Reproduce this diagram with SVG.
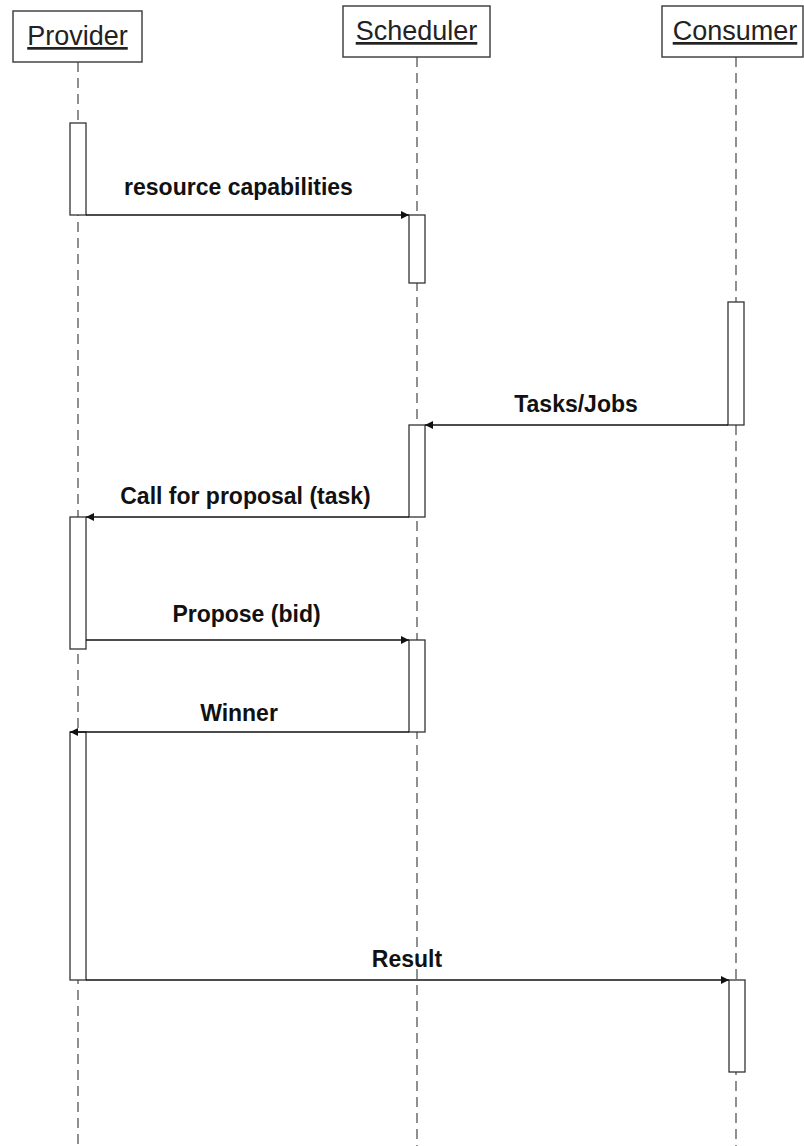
<svg xmlns="http://www.w3.org/2000/svg" width="804" height="1146" viewBox="0 0 804 1146">
  <style>
    .head { fill: #fff; stroke: #444; stroke-width: 1.5; }
    .head-label { font-family: "Liberation Sans", Arial, sans-serif; font-size: 27px; fill: #222; text-anchor: middle; text-decoration: underline; }
    .life { stroke: #555; stroke-width: 1.3; stroke-dasharray: 10 6; fill: none; }
    .act { fill: #fff; stroke: #333; stroke-width: 1.3; }
    .msg { stroke: #111; stroke-width: 1.3; fill: none; marker-end: url(#head); }
    .msg-label { font-family: "Liberation Sans", Arial, sans-serif; font-size: 23px; font-weight: bold; fill: #111; text-anchor: middle; }
  </style>
  <defs>
    <marker id="head" viewBox="0 0 10 10" refX="10" refY="5" markerWidth="10" markerHeight="8" markerUnits="userSpaceOnUse" orient="auto">
      <path d="M0,0 L10,5 L0,10 Z" fill="#111"/>
    </marker>
  </defs>
  <rect width="804" height="1146" fill="#fff"/>

  <!-- lifelines -->
  <g id="lifelines">
    <line class="life" x1="78" y1="62" x2="78" y2="1146"/>
    <line class="life" x1="417" y1="57" x2="417" y2="1146"/>
    <line class="life" x1="736" y1="57" x2="736" y2="1146"/>
  </g>

  <!-- participants -->
  <g id="provider">
    <rect class="head" x="13" y="11" width="129" height="51"/>
    <text class="head-label" x="77.5" y="45">Provider</text>
  </g>
  <g id="scheduler">
    <rect class="head" x="343" y="6" width="147" height="51"/>
    <text class="head-label" x="416.5" y="40">Scheduler</text>
  </g>
  <g id="consumer">
    <rect class="head" x="662" y="6" width="141" height="51"/>
    <text class="head-label" x="735" y="40">Consumer</text>
  </g>

  <!-- activation bars -->
  <g id="provider-activations">
    <rect class="act" x="70" y="123" width="16" height="92"/>
    <rect class="act" x="70" y="517" width="16" height="132"/>
    <rect class="act" x="70" y="732" width="16" height="248"/>
  </g>
  <g id="scheduler-activations">
    <rect class="act" x="409" y="215" width="16" height="68"/>
    <rect class="act" x="409" y="425" width="16" height="92"/>
    <rect class="act" x="409" y="640" width="16" height="92"/>
  </g>
  <g id="consumer-activations">
    <rect class="act" x="728" y="302" width="16" height="123"/>
    <rect class="act" x="729" y="980" width="16" height="92"/>
  </g>

  <!-- messages -->
  <g id="connectors">
    <line class="msg" x1="86" y1="215" x2="409" y2="215"/>
    <line class="msg" x1="728" y1="425" x2="425" y2="425"/>
    <line class="msg" x1="409" y1="517" x2="86" y2="517"/>
    <line class="msg" x1="86" y1="640" x2="409" y2="640"/>
    <line class="msg" x1="409" y1="732" x2="70" y2="732"/>
    <line class="msg" x1="86" y1="980" x2="729" y2="980"/>
  </g>

  <g id="message-labels">
    <text class="msg-label" x="238.5" y="195">resource capabilities</text>
    <text class="msg-label" x="576" y="412">Tasks/Jobs</text>
    <text class="msg-label" x="245.5" y="504">Call for proposal (task)</text>
    <text class="msg-label" x="246.5" y="622">Propose (bid)</text>
    <text class="msg-label" x="239" y="721">Winner</text>
    <text class="msg-label" x="407" y="967">Result</text>
  </g>
</svg>
